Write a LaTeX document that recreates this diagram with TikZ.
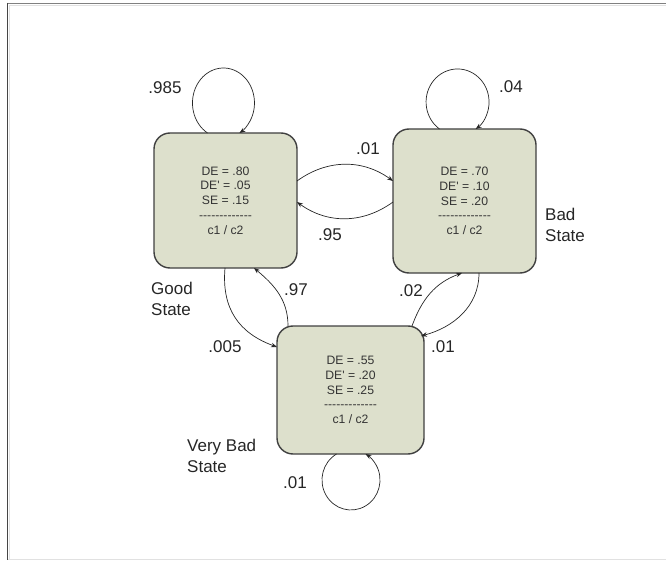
\documentclass[tikz,border=0pt]{standalone}
\usepackage{fontspec}
\setmainfont{Liberation Sans}
\usepackage{tikz}
\usetikzlibrary{arrows.meta}
\definecolor{statefill}{RGB}{221, 224, 204}
\definecolor{stateborder}{RGB}{64, 64, 64}
\definecolor{statetext}{RGB}{52, 52, 52}
\definecolor{frametop}{RGB}{128, 128, 128}
\definecolor{frameleft}{RGB}{70, 70, 70}
\definecolor{framelight}{RGB}{225, 225, 225}
% row of hyphens under the error rates (kerns keep them from merging into dashes)
\newcommand{\sepline}{\foreach \k in {1,...,13}{-\kern0pt}}

\begin{document}
\begin{tikzpicture}[
    x=1pt, y=-1pt,
    statebox/.style={rectangle, draw=stateborder, fill=statefill, line width=1.4pt, rounded corners=16pt, inner sep=0pt, outer sep=0pt, align=center, text=statetext, font=\fontsize{12.2}{14.7}\selectfont},
    arrow/.style={-{Stealth[length=6pt,width=4.5pt]}, line width=0.7pt, draw=black!85},
    prob/.style={font=\fontsize{17}{20}\selectfont, text=black!85, inner sep=0pt},
    statename/.style={font=\fontsize{17}{21}\selectfont, align=left, anchor=west, text=black!85, inner sep=0pt}
]
    \useasboundingbox (0,0) rectangle (666,561);

    % Frame
    \draw[framelight, line width=1pt] (9,5.5) -- (666,5.5);
    \draw[framelight, line width=1pt] (9.5,5) -- (9.5,559);
    \draw[framelight, line width=1.2pt] (7,559.5) -- (666,559.5);
    \draw[frametop, line width=1.8pt] (7,3.5) -- (666,3.5);
    \draw[frameleft, line width=1.4pt] (7.5,3) -- (7.5,560);

    % States
    \node[statebox, minimum width=143pt, minimum height=135pt] (goodst) at (225.5,200.5) {DE = .80\\DE\textquotesingle{} = .05\\SE = .15\\\sepline\\c1 / c2};
    \node[statebox, minimum width=143pt, minimum height=144pt] (badst) at (464.5,201) {DE = .70\\DE\textquotesingle{} = .10\\SE = .20\\\sepline\\c1 / c2};
    \node[statebox, minimum width=147pt, minimum height=128pt] (vbadst) at (350.5,390) {DE = .55\\DE\textquotesingle{} = .20\\SE = .25\\\sepline\\c1 / c2};

    \node[statename] (goodname) at (151,299) {Good\\State};
    \node[statename] (badname) at (545,225) {Bad\\State};
    \node[statename] (vbadname) at (187,456) {Very Bad\\State};

    % Self loops
    \draw[arrow] ([xshift=-18pt]goodst.north) arc[start angle=239, end angle=-59, x radius=31pt, y radius=35pt];
    \draw[arrow] ([xshift=-25pt]badst.north) arc[start angle=235, end angle=-55, x radius=31.5pt, y radius=33pt];
    \draw[arrow] ([xshift=-14pt]vbadst.south) arc[start angle=120, end angle=420, x radius=29pt, y radius=30pt];

    % Transitions
    \draw[arrow] ([yshift=19.5pt]goodst.east) to[bend left=36] ([yshift=20pt]badst.west);
    \draw[arrow] ([yshift=-1pt]badst.west) to[bend left=36] ([yshift=-1.5pt]goodst.east);
    \draw[arrow] ([xshift=-0.5pt]goodst.south) to[out=265, in=160, looseness=1.1] ([yshift=43pt]vbadst.west);
    \draw[arrow] ([xshift=-62.5pt]vbadst.north) to[out=90, in=-40] ([xshift=28.5pt]goodst.south);
    \draw[arrow] ([xshift=61.5pt]vbadst.north) to[out=70, in=200] ([xshift=-2.5pt]badst.south);
    \draw[arrow] ([xshift=14.5pt]badst.south) to[out=-90, in=15] ([shift={(-3pt,-10pt)}]vbadst.north east);

    % Transition probabilities
    \node[prob] (pgg) at (165,88) {.985};
    \node[prob] (pbb) at (511,87) {.04};
    \node[prob] (pgb) at (368,149) {.01};
    \node[prob] (pbg) at (330,235) {.95};
    \node[prob] (pgv) at (225,347) {.005};
    \node[prob] (pvg) at (296,290) {.97};
    \node[prob] (pvb) at (411,291) {.02};
    \node[prob] (pbv) at (443,347) {.01};
    \node[prob] (pvv) at (295,483) {.01};
\end{tikzpicture}
\end{document}
